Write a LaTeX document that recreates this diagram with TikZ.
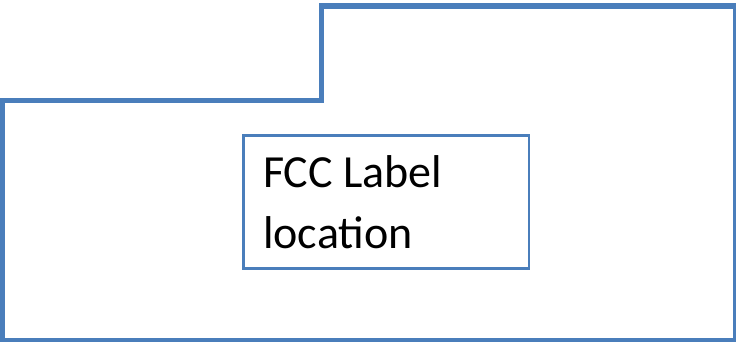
\documentclass[tikz,border=0pt]{standalone}
\usepackage{fontspec}
\setmainfont{Carlito}
\definecolor{outlineblue}{RGB}{74,126,187}
\tikzset{
    labelbox/.style={draw=outlineblue,line width=2.5pt,rectangle,anchor=north west,
        minimum width=285.5pt,minimum height=133pt,inner sep=0pt},
    labeltext/.style={align=left,font=\fontsize{46pt}{61pt}\selectfont,inner sep=0pt}
}
\begin{document}
\begin{tikzpicture}[x=1pt,y=-1pt]
    \useasboundingbox (0,0) rectangle (736,341);
    \draw [outlineblue,line width=5.5pt] (2.5,100.5)
        -- (321.5,100.5)
        -- (321.5,6)
        -- (735.5,6)
        -- (735.5,340.5)
        -- (2.5,340.5)
        -- cycle
    ;
    \node [labelbox] (label) at (242,134) {};
    % base anchor sits on the last line
    \node [labeltext,anchor=base west] (labeltxt) at (263,248) {FCC Label\\location};
\end{tikzpicture}
\end{document}
